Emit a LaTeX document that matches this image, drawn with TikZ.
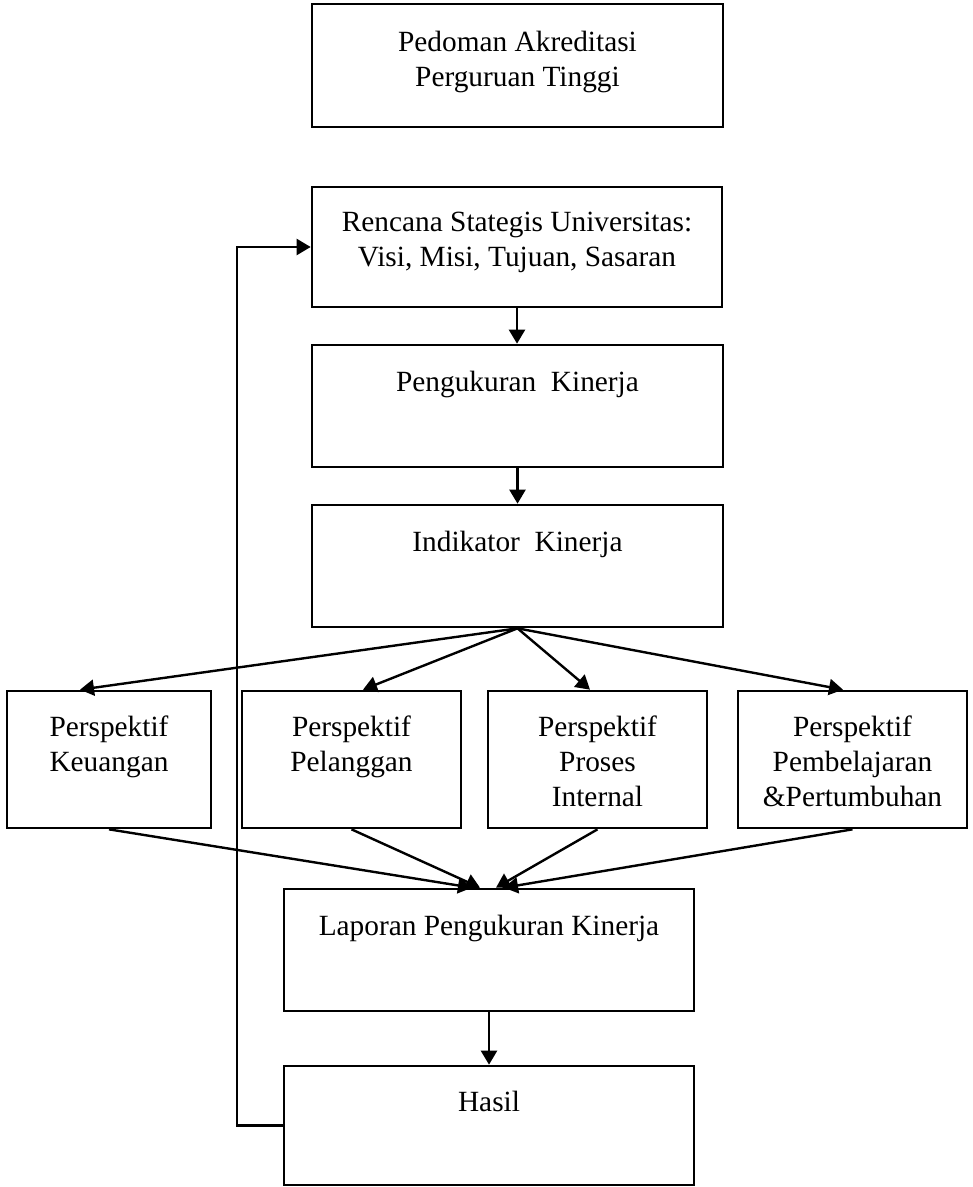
\documentclass[tikz,border=0pt]{standalone}
\usepackage{fontspec}
\setmainfont{Liberation Serif}
\usetikzlibrary{arrows.meta,calc}
\begin{document}
\begin{tikzpicture}[x=0.75pt,y=-0.75pt,
  box/.style 2 args={draw=black, line width=2pt, minimum width=#1*0.75pt, minimum height=#2*0.75pt, inner sep=0pt},
  txt/.style={font=\fontsize{22}{26.5}\selectfont, align=center, inner sep=0pt, anchor=base},
  arr/.style={draw=black, line width=1.8pt, -{Triangle[length=10.5pt,width=12pt]}}]
\fill[white] (0,0) rectangle (972,1187);
\useasboundingbox (0,0) rectangle (972,1187);

% boxes
\node[box={411}{123}] (b1) at (517.5,65.5) {};
\node[box={410}{120}] (b2) at (517,247) {};
\node[box={411}{122}] (b3) at (517.5,406) {};
\node[box={411}{122}] (b4) at (517.5,566) {};
\node[box={204}{137}] (b5) at (109,759.5) {};
\node[box={219}{137}] (b6) at (351.5,759.5) {};
\node[box={219}{137}] (b7) at (597.5,759.5) {};
\node[box={229}{137}] (b8) at (852.5,759.5) {};
\node[box={410}{122}] (b9) at (489,950) {};
\node[box={410}{119}] (b10) at (489,1125.5) {};

% texts (base = baseline of the last line)
\node[txt] (t1) at ($(b1.north)+(0,84)$) {Pedoman Akreditasi\\Perguruan Tinggi};
\node[txt] (t2) at ($(b2.north)+(0,81)$) {Rencana Stategis Universitas:\\Visi, Misi, Tujuan, Sasaran};
\node[txt] (t3) at ($(b3.north)+(0,48)$) {Pengukuran\ \ Kinerja};
\node[txt] (t4) at ($(b4.north)+(0,48)$) {Indikator\ \ Kinerja};
\node[txt] (t5) at ($(b5.north)+(0,82)$) {Perspektif\\Keuangan};
\node[txt] (t6) at ($(b6.north)+(0,82)$) {Perspektif\\Pelanggan};
\node[txt] (t7) at ($(b7.north)+(0,117)$) {Perspektif\\Proses\\Internal};
\node[txt] (t8) at ($(b8.north)+(0,117)$) {Perspektif\\Pembelajaran\\\&Pertumbuhan};
\node[txt] (t9) at ($(b9.north)+(0,48)$) {Laporan Pengukuran Kinerja};
\node[txt] (t10) at ($(b10.north)+(0,47)$) {Hasil};

% connectors
\draw[arr] (b2.south) -- (b2.south |- b3.north);
\draw[arr] (b3.south) -- (b3.south |- b4.north);
\draw[arr] (b4.south) -- ($(b5.north)+(-29,0)$);
\draw[arr] (b4.south) -- ($(b6.north)+(11.5,0)$);
\draw[arr] (b4.south) -- ($(b7.north)+(-7.5,0)$);
\draw[arr] (b4.south) -- ($(b8.north)+(-9.5,0)$);
\draw[arr] (b5.south) -- ($(b9.north)+(-17,0)$);
\draw[arr] (b6.south) -- ($(b9.north)+(-9,0)$);
\draw[arr] (b7.south) -- ($(b9.north)+(7,0)$);
\draw[arr] (b8.south) -- ($(b9.north)+(15,0)$);
\draw[arr] (b9.south) -- (b10.north);
\coordinate (fb) at (237,1125.5);
\draw[arr] (b10.west) -- (fb) |- (b2.west);
\end{tikzpicture}
\end{document}
